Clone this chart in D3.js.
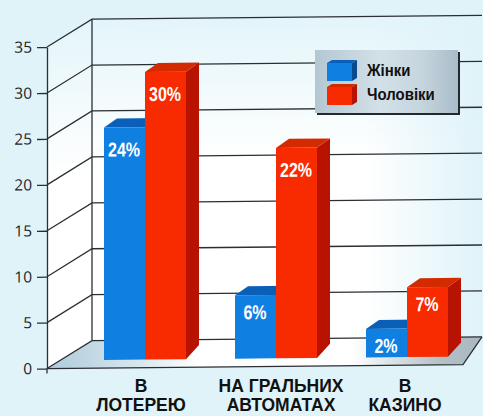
<!DOCTYPE html>
<html lang="uk">
  <head>
    <meta charset="UTF-8" />
    <title>Азартні ігри</title>
    <style type="text/css">
      html, body {
        margin: 0;
        padding: 0;
        background: #dff3f9;
      }
      svg {
        display: block;
      }
      .tick text {
        font-family: "Open Sans", sans-serif;
        font-size: 15.5px;
        fill: #1c1c1c;
      }
      .cat-label {
        font-family: "Liberation Sans", Arial, sans-serif;
        font-weight: bold;
        font-size: 17.5px;
        fill: #111;
        text-anchor: middle;
      }
      .val-label {
        font-family: "Liberation Sans", Arial, sans-serif;
        font-weight: bold;
        font-size: 20px;
        fill: #fff;
        text-anchor: middle;
      }
      .legend-label {
        font-family: "Liberation Sans", Arial, sans-serif;
        font-weight: bold;
        font-size: 17px;
        fill: #111;
      }
    </style>
  </head>
  <body>
    <script src="https://d3js.org/d3.v7.min.js"></script>
    <script>
      var categories = [
        ["В", "ЛОТЕРЕЮ"],
        ["НА ГРАЛЬНИХ", "АВТОМАТАХ"],
        ["В", "КАЗИНО"],
      ];
      var seriesNames = ["Жінки", "Чоловіки"];
      // printed labels
      var womenLabels = [24, 6, 2];
      var menLabels = [30, 22, 7];
      // bar heights as read against the axis (they run a bit above the labels)
      var womenHeights = [25.3, 6.9, 3.1];
      var menHeights = [31.3, 22.9, 7.6];
      var yTicks = [0, 5, 10, 15, 20, 25, 30, 35];

      var width = 483;
      var height = 416;

      var axisX = 47;
      var wallX = 92;
      var wallRight = 482;
      var floorRight = 463;
      var depth = 27.5;
      var barBase = 8; // bars stand this far behind the front edge of the floor
      var topDx = 13, topDy = -9, sideBottomDy = -14;

      var blue = { front: "#0f80e2", top: "#0a5fb8", side: "#0a4a90" };
      var red = { front: "#f72a00", top: "#d42a00", side: "#b81200" };
      var colors = [blue, red];

      var y = d3.scaleLinear().domain([0, 35]).range([369, 47.5]);
      var x = d3
        .scaleBand()
        .domain(d3.range(categories.length))
        .range([79.5, 472.5])
        .paddingInner(0.374)
        .paddingOuter(0.187);
      var xSeries = d3
        .scaleBand()
        .domain(d3.range(seriesNames.length))
        .range([0, x.bandwidth()]);

      var svg = d3
        .select("body")
        .append("svg")
        .attr("width", width)
        .attr("height", height);

      var defs = svg.append("defs");

      function gradient(id, horizontal, stops) {
        var g = defs
          .append("linearGradient")
          .attr("id", id)
          .attr("x1", 0)
          .attr("y1", 0)
          .attr("x2", horizontal ? 1 : 0)
          .attr("y2", horizontal ? 0 : 1);
        stops.forEach((s) => {
          g.append("stop")
            .attr("offset", s[0])
            .attr("stop-color", s[1])
            .attr("stop-opacity", s[2] === undefined ? 1 : s[2]);
        });
      }

      gradient("wall-v", false, [
        [0, "#e3f5fa"],
        [0.3, "#f6fcfd"],
        [0.45, "#ffffff"],
        [1, "#ffffff"],
      ]);
      gradient("wall-h", true, [
        [0, "#dff3f9", 0],
        [0.7, "#dff3f9", 0],
        [1, "#dff3f9", 1],
      ]);
      gradient("floor", true, [
        [0, "#aecbdb"],
        [0.2, "#d5e5ec"],
        [0.35, "#ffffff"],
        [0.7, "#ffffff"],
        [0.9, "#b4c1c7"],
        [1, "#a9b7be"],
      ]);
      gradient("legend-bg", true, [
        [0, "#b3c7d3"],
        [0.45, "#d3e0e7"],
        [0.75, "#c5d5de"],
        [1, "#a9bcc9"],
      ]);

      // the scan sits very slightly rotated, so the whole plot leans up to the right
      var plot = svg.append("g").attr("transform", "skewY(-0.55)");

      var line = d3.line();

      function wallPath(points, fill) {
        return plot.append("path").attr("d", line(points) + "Z").attr("fill", fill);
      }

      // walls and floor
      var backRect = [
        [wallX, y(35) - depth],
        [wallRight, y(35) - depth],
        [wallRight, y(0) - depth],
        [wallX, y(0) - depth],
      ];
      wallPath(backRect, "url(#wall-v)");
      wallPath(backRect, "url(#wall-h)");
      wallPath(
        [
          [axisX, y(35)],
          [wallX, y(35) - depth],
          [wallX, y(0) - depth],
          [axisX, y(0)],
        ],
        "url(#wall-v)"
      );
      wallPath(
        [
          [axisX, y(0)],
          [wallX, y(0) - depth],
          [wallRight, y(0) - depth],
          [floorRight, y(0)],
        ],
        "url(#floor)"
      );

      // grid
      var grid = plot
        .append("g")
        .attr("fill", "none")
        .attr("stroke", "#2b2f33")
        .attr("stroke-width", 1.3);

      grid
        .selectAll("path")
        .data(yTicks)
        .join("path")
        .attr("d", (d) =>
          line([
            [axisX, y(d)],
            [wallX, y(d) - depth],
            [wallRight, y(d) - depth],
          ])
        );
      grid
        .append("path")
        .attr("d", line([[wallX, y(35) - depth], [wallX, y(0) - depth]]));
      grid
        .append("path")
        .attr(
          "d",
          line([
            [wallRight, y(0) - depth],
            [floorRight, y(0)],
            [axisX, y(0)],
          ])
        );
      grid
        .append("path")
        .attr("d", line([[axisX, y(0)], [axisX, y(0) + 5]]));

      // axis
      var axis = plot
        .append("g")
        .attr("transform", `translate(${axisX},0)`)
        .call(
          d3
            .axisLeft(y)
            .tickValues(yTicks)
            .tickSize(10)
            .tickSizeOuter(0)
            .tickPadding(5)
        );
      axis.selectAll("line, path").attr("stroke", "#2b2f33").attr("stroke-width", 1.3);

      // bars
      var bars = [];
      categories.forEach((c, i) => {
        bars.push({ cat: i, s: 0, h: womenHeights[i], label: womenLabels[i] });
        bars.push({ cat: i, s: 1, h: menHeights[i], label: menLabels[i] });
      });

      var baseY = y(0) - barBase;

      var bar = plot
        .append("g")
        .selectAll("g")
        .data(bars)
        .join("g");

      function x0(d) {
        return x(d.cat) + xSeries(d.s);
      }
      function topY(d) {
        return y(d.h) - barBase;
      }

      bar
        .append("path")
        .attr("fill", (d) => colors[d.s].side)
        .attr("d", (d) => {
          var r = x0(d) + xSeries.bandwidth();
          return (
            line([
              [r, topY(d)],
              [r + topDx, topY(d) + topDy],
              [r + topDx, baseY + sideBottomDy],
              [r, baseY],
            ]) + "Z"
          );
        });
      bar
        .append("path")
        .attr("fill", (d) => colors[d.s].top)
        .attr("d", (d) => {
          var r = x0(d) + xSeries.bandwidth();
          return (
            line([
              [x0(d), topY(d)],
              [x0(d) + topDx, topY(d) + topDy],
              [r + topDx, topY(d) + topDy],
              [r, topY(d)],
            ]) + "Z"
          );
        });
      bar
        .append("rect")
        .attr("fill", (d) => colors[d.s].front)
        .attr("x", x0)
        .attr("y", topY)
        .attr("width", xSeries.bandwidth())
        .attr("height", (d) => baseY - topY(d));

      // no narrow font is installed, so the narrow lettering is squeezed by hand
      bar
        .append("text")
        .attr("class", "val-label")
        .attr("transform", (d) => {
          var cx = x0(d) + xSeries.bandwidth() / 2 - 0.5;
          return `translate(${cx},${topY(d) + (d.label < 10 ? 24 : 29)}) scale(0.8,1)`;
        })
        .text((d) => d.label + "%");

      // category labels
      var labelDx = [-4, 5, -2];
      var cat = svg
        .append("g")
        .selectAll("text")
        .data(categories)
        .join("text")
        .attr("class", "cat-label")
        .attr("transform", (d, i) => `translate(${x(i) + x.bandwidth() / 2 + labelDx[i]},0)`);
      cat
        .selectAll("tspan")
        .data((d) => d)
        .join("tspan")
        .attr("x", 0)
        .attr("y", (d, i) => 392 + i * 19)
        .text((d) => d);

      // legend
      var legend = svg.append("g").attr("transform", "translate(315,50)");
      legend
        .append("rect")
        .attr("x", 2)
        .attr("y", 2)
        .attr("width", 143)
        .attr("height", 63)
        .attr("fill", "#24282c");
      legend
        .append("rect")
        .attr("width", 143)
        .attr("height", 63)
        .attr("fill", "url(#legend-bg)");

      var legendItem = legend
        .selectAll(".legend-item")
        .data(seriesNames)
        .join("g")
        .attr("class", "legend-item")
        .attr("transform", (d, i) => `translate(12,${10 + i * 24})`);

      legendItem
        .append("path")
        .attr("fill", (d, i) => colors[i].top)
        .attr("d", line([[0, 3], [5, 0], [30, 0], [25, 3]]) + "Z");
      legendItem
        .append("path")
        .attr("fill", (d, i) => colors[i].side)
        .attr("d", line([[25, 3], [30, 0], [30, 18], [25, 21]]) + "Z");
      legendItem
        .append("rect")
        .attr("y", 3)
        .attr("width", 25)
        .attr("height", 18)
        .attr("fill", (d, i) => colors[i].front);
      legendItem
        .append("text")
        .attr("class", "legend-label")
        .attr("transform", "translate(40,16) scale(0.88,1)")
        .text((d) => d);
    </script>
  </body>
</html>
